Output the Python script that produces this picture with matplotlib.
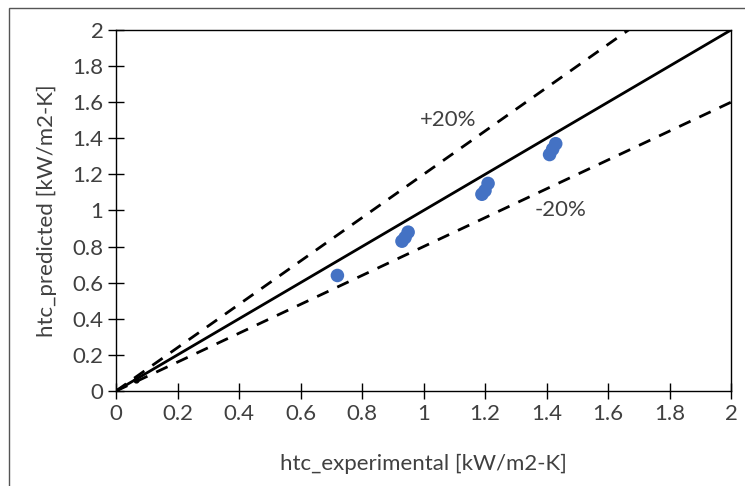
import matplotlib.pyplot as plt
from matplotlib.patches import Rectangle
import numpy as np

# measured vs predicted heat transfer coefficient
htc_exp = [0.72, 0.93, 0.94, 0.95, 1.19, 1.20, 1.21, 1.41, 1.42, 1.43]
htc_pred = [0.64, 0.83, 0.85, 0.88, 1.09, 1.11, 1.15, 1.31, 1.34, 1.37]

# small point near origin
origin_x = [0.065]
origin_y = [0.06]

ticks = [0, 0.2, 0.4, 0.6, 0.8, 1, 1.2, 1.4, 1.6, 1.8, 2]
tick_labels = ['0', '0.2', '0.4', '0.6', '0.8', '1', '1.2', '1.4', '1.6', '1.8', '2']

plt.rcParams['font.family'] = ['Lato', 'DejaVu Sans']

fig = plt.figure(figsize=(7.45, 4.86), dpi=100)
ax = fig.add_axes([116 / 745, 1 - 391 / 486, 615 / 745, 361 / 486])

# outer chart border (only left and top visible in the crop)
fig.patches.append(Rectangle((9 / 745, -0.5), 2, 1.5 - 8 / 486, transform=fig.transFigure,
                             fill=False, edgecolor='#555555', lw=1.0, clip_on=False))

x_line = np.array([0, 2])
ax.plot(x_line, x_line, color='black', lw=2, zorder=2)
ax.plot(x_line, 1.2 * x_line, color='black', lw=2, ls=(0, (4.5, 3.5)), zorder=2)
ax.plot(x_line, 0.8 * x_line, color='black', lw=2, ls=(0, (4.5, 3.5)), zorder=2)

ax.scatter(htc_exp, htc_pred, s=95, color='#4472C4', edgecolors='none', zorder=3)
ax.scatter(origin_x, origin_y, s=12, color='black', zorder=3)

ax.text(1.08, 1.50, '+20%', fontsize=16, color='#404040', ha='center', va='center')
ax.text(1.445, 1.00, '-20%', fontsize=16, color='#404040', ha='center', va='center')

ax.set_xlim(0, 2)
ax.set_ylim(0, 2)
ax.set_xticks(ticks)
ax.set_xticklabels(tick_labels)
ax.set_yticks(ticks)
ax.set_yticklabels(tick_labels)
ax.tick_params(direction='inout', length=12, width=1, colors='black',
               labelcolor='#404040', labelsize=16, pad=3)

for sp in ax.spines.values():
    sp.set_linewidth(1)
    sp.set_color('black')

ax.set_xlabel('htc_experimental [kW/m2-K]', fontsize=16, color='#404040', labelpad=22)
ax.set_ylabel('htc_predicted [kW/m2-K]', fontsize=16, color='#404040', labelpad=11)

plt.savefig('out.png', dpi=100)
